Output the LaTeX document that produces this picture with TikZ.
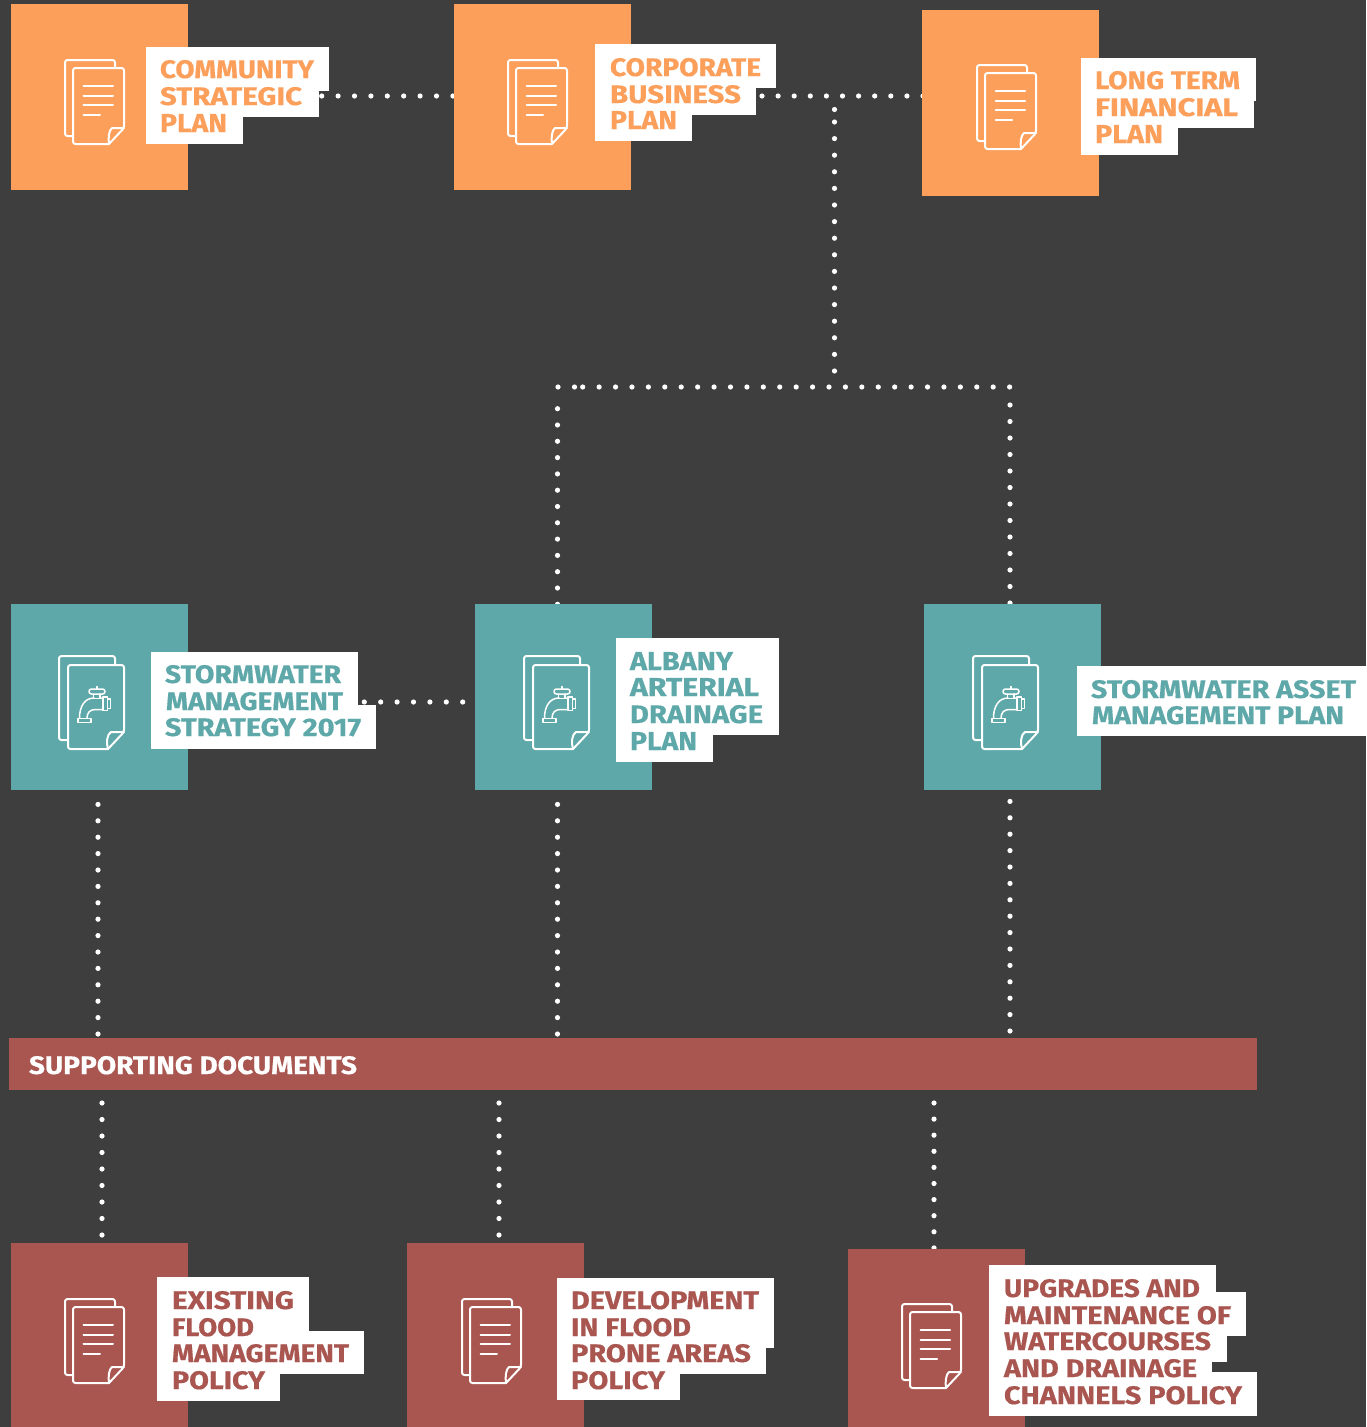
\documentclass[tikz,border=0pt]{standalone}
\usepackage{fontspec}
\usepackage{graphicx}
\setmainfont{Fira Sans}[BoldFeatures={FakeBold=0.5}]
\definecolor{bgc}{HTML}{3E3E3E}
\definecolor{orangec}{HTML}{FB9F5B}
\definecolor{tealc}{HTML}{5EA8A9}
\definecolor{redc}{HTML}{A95550}
\pgfdeclarelayer{backdrop}
\pgfdeclarelayer{dots}
\pgfsetlayers{backdrop,dots,main}
\tikzset{
  sq/.style={inner sep=0pt,outer sep=0pt,draw=none},
  lbltext/.style={inner sep=0pt,outer sep=0pt,anchor=base west,font=\bfseries},
  dotline/.style={white,line width=5.2pt,line cap=round,dash pattern=on 0pt off #1pt},
  icon/.style={white,line width=2pt,line cap=round,line join=round},
  tapline/.style={white,line width=1.5pt,line cap=round,line join=round},
  plaindoc/.pic={
    \draw[icon,rounded corners=2.5pt] (8,76) -- (0,76) -- (0,0) -- (50,0) -- (50,8);
    \draw[icon,rounded corners=2.5pt] (8,30) -- (8,8) -- (59,8) -- (59,68) [sharp corners] -- (44,84) [rounded corners=2.5pt] -- (8,84) -- cycle;
    \draw[icon] (59,68) -- (47,68) .. controls (44,70) and (43,78) .. (44,84);
    \draw[icon] (18.5,26) -- (48,26) (18.5,35.5) -- (48,35.5) (18.5,45) -- (48,45) (18.5,54.7) -- (35,54.7);
  },
  tapdoc/.pic={
    \draw[icon,rounded corners=2.5pt] (9,84) -- (0,84) -- (0,0) -- (56,0) -- (56,9);
    \draw[icon,rounded corners=2.5pt] (9,30) -- (9,9) -- (65,9) -- (65,76) [sharp corners] -- (49,93) [rounded corners=2.5pt] -- (9,93) -- cycle;
    \draw[icon] (65,76) -- (52,76) .. controls (48,78) and (47,87) .. (49,93);
    \draw[tapline,rounded corners=2.4pt] (30,33) rectangle (46,38);
    \draw[tapline] (37.8,30.5) -- (37.8,33) (34.5,38) -- (34.5,42.5) -- (41,42.5) -- (41,38);
    \draw[tapline] (20.5,62) .. controls (20.5,50) and (26,42) .. (35,42) (41,42) -- (44,42) (44,53.5) -- (36,53.5) .. controls (31,53.5) and (28,57) .. (28,62);
    \draw[tapline] (44,41) rectangle (48.5,54.5) (48.5,43) rectangle (51.5,52.5);
    \draw[tapline] (19,62.3) rectangle (32,66.3);
  }
}
\newcommand{\bx}[6]{\pgfmathsetmacro{\ww}{#4-#2}\pgfmathsetmacro{\hh}{#5-#3}\pgfmathsetmacro{\cx}{0.5*(#2+#4)}\pgfmathsetmacro{\cy}{0.5*(#3+#5)}%
  \node[sq,fill=#6,minimum width=\ww pt,minimum height=\hh pt] (#1) at (\cx,\cy) {};}
\newcommand{\tl}[6]{\node[lbltext,text=#6] (#1) at (#2,#3) {\resizebox{#4pt}{18pt}{#5}};}
\begin{document}
\begin{tikzpicture}[x=1pt,y=-1pt]
\useasboundingbox (0,0) rectangle (1366,1427);
\begin{pgfonlayer}{backdrop}
\fill[bgc] (0,0) rectangle (1366,1427);
\end{pgfonlayer}
% free ends of the dotted connectors
\coordinate (d1) at (321.7,96);
\coordinate (d2) at (762,96);
\coordinate (j1) at (834.5,122);
\coordinate (j0) at (834.5,109.5);
\coordinate (j3) at (834.5,372);
\coordinate (h1) at (582.7,387);
\coordinate (h2) at (1011,387);
\coordinate (h3) at (558,387);
\coordinate (h4) at (575,387);
\coordinate (v1) at (557.5,408.7);
\coordinate (v2) at (1010,405);
\coordinate (s1) at (364.3,702);
\coordinate (u1) at (98,1034);
\coordinate (u2) at (557.5,1034);
\coordinate (u3) at (1010,1031);
\coordinate (l1) at (102,1103);
\coordinate (l2) at (499,1103);
\coordinate (l3) at (934,1103);
% squares
\bx{csp}{11}{4}{188}{190}{orangec}
\bx{cbp}{454}{4}{631}{190}{orangec}
\bx{ltf}{922}{10}{1099}{196}{orangec}
\bx{sms}{11}{604}{188}{790}{tealc}
\bx{aad}{475}{604}{652}{790}{tealc}
\bx{sam}{924}{604}{1101}{790}{tealc}
\bx{efm}{11}{1243}{188}{1427}{redc}
\bx{dfp}{407}{1243}{584}{1427}{redc}
\bx{uam}{848}{1249}{1025}{1427}{redc}
\bx{bar}{9}{1038}{1257}{1090}{redc}
% connectors
\begin{pgfonlayer}{dots}
\draw[dotline=16.4] (d1) -- ([xshift=3pt]d1 -| cbp.west);
\draw[dotline=16.1] (d2) -- ([xshift=3pt]d2 -| ltf.west);
\draw[dotline=12.5] (j0) -- (j1);
\draw[dotline=16.6] (j1) -- (j3);
\draw[dotline=16.42] (h1) -- (h2);
\draw[dotline=16.5] (h3) -- (h4);
\draw[dotline=16.3] (v1) -- ([yshift=-3pt]v1 |- aad.north);
\draw[dotline=16.5] (v2) -- ([yshift=-3pt]v2 |- sam.north);
\draw[dotline=16.4] (s1) -- (s1 -| aad.west);
\draw[dotline=16.4] (u1) -- (u1 |- sms.south);
\draw[dotline=16.4] (u2) -- ([yshift=-10pt]u2 |- aad.south);
\draw[dotline=16.4] (u3) -- ([yshift=-10pt]u3 |- sam.south);
\draw[dotline=16.5] (l1) -- (l1 |- efm.north);
\draw[dotline=16.5] (l2) -- (l2 |- dfp.north);
\draw[dotline=16.1] (l3) -- ([yshift=-3pt]l3 |- uam.north);
\end{pgfonlayer}
% icons
\pic at (65,60) {plaindoc};
\pic at (508,60) {plaindoc};
\pic at (977,65) {plaindoc};
\pic at (65,1299) {plaindoc};
\pic at (462,1299) {plaindoc};
\pic at (902,1304) {plaindoc};
\pic at (59,656) {tapdoc};
\pic at (524,656) {tapdoc};
\pic at (973,656) {tapdoc};
% white label plates
\bx{a1}{146}{47}{329}{91}{white}\bx{a2}{146}{91}{319}{117}{white}\bx{a3}{146}{117}{243}{144}{white}
\bx{b1}{595}{44}{776}{88}{white}\bx{b2}{595}{88}{756}{115}{white}\bx{b3}{595}{115}{692}{141}{white}
\bx{c1}{1081}{58}{1256}{101}{white}\bx{c2}{1081}{101}{1254}{128}{white}\bx{c3}{1081}{128}{1178}{155}{white}
\bx{e1}{151}{652}{358}{705}{white}\bx{e2}{151}{705}{376}{749}{white}
\bx{f1}{616}{638}{779}{735}{white}\bx{f2}{616}{735}{713}{762}{white}
\bx{g1}{1077}{666}{1366}{736}{white}
\bx{h1b}{157}{1277}{309}{1331}{white}\bx{h2b}{157}{1331}{364}{1374}{white}\bx{h3b}{157}{1374}{280}{1401}{white}
\bx{i1}{557}{1278}{774}{1348}{white}\bx{i2}{557}{1348}{766}{1374}{white}\bx{i3}{557}{1374}{680}{1400}{white}
\bx{k1}{989}{1265}{1216}{1292}{white}\bx{k2}{989}{1292}{1246}{1336}{white}\bx{k3}{989}{1336}{1227}{1362}{white}\bx{k4}{989}{1362}{1212}{1372}{white}\bx{k5}{989}{1372}{1257}{1416}{white}
% texts
\tl{ta1}{160}{78}{154}{COMMUNITY}{orangec}
\tl{ta2}{160}{105}{142}{STRATEGIC}{orangec}
\tl{ta3}{160}{132}{67}{PLAN}{orangec}
\tl{tb1}{610}{76}{151}{CORPORATE}{orangec}
\tl{tb2}{610}{103}{131}{BUSINESS}{orangec}
\tl{tb3}{610}{129}{67}{PLAN}{orangec}
\tl{tc1}{1095}{89}{145}{LONG TERM}{orangec}
\tl{tc2}{1095}{116}{143}{FINANCIAL}{orangec}
\tl{tc3}{1095}{143}{68}{PLAN}{orangec}
\tl{te1}{165}{683}{176}{STORMWATER}{tealc}
\tl{te2}{166}{710}{177}{MANAGEMENT}{tealc}
\tl{te3}{165}{736}{196}{STRATEGY 2017}{tealc}
\tl{tf1}{630}{670}{103}{ALBANY}{tealc}
\tl{tf2}{630}{696}{129}{ARTERIAL}{tealc}
\tl{tf3}{630}{723}{133}{DRAINAGE}{tealc}
\tl{tf4}{630}{750}{67}{PLAN}{tealc}
\tl{tg1}{1091}{698}{265}{STORMWATER ASSET}{tealc}
\tl{tg2}{1092}{724}{252}{MANAGEMENT PLAN}{tealc}
\tl{th1}{172}{1309}{122}{EXISTING}{redc}
\tl{th2}{172}{1336}{82}{FLOOD}{redc}
\tl{th3}{172}{1362}{177}{MANAGEMENT}{redc}
\tl{th4}{172}{1389}{93}{POLICY}{redc}
\tl{ti1}{571}{1309}{188}{DEVELOPMENT}{redc}
\tl{ti2}{571}{1336}{120}{IN FLOOD}{redc}
\tl{ti3}{571}{1362}{180}{PRONE AREAS}{redc}
\tl{ti4}{571}{1389}{94}{POLICY}{redc}
\tl{tk1}{1004}{1297}{196}{UPGRADES AND}{redc}
\tl{tk2}{1004}{1324}{227}{MAINTENANCE OF}{redc}
\tl{tk3}{1004}{1350}{207}{WATERCOURSES}{redc}
\tl{tk4}{1004}{1377}{193}{AND DRAINAGE}{redc}
\tl{tk5}{1004}{1404}{238}{CHANNELS POLICY}{redc}
\tl{tbar}{29}{1074}{328}{SUPPORTING DOCUMENTS}{white}
\end{tikzpicture}
\end{document}
